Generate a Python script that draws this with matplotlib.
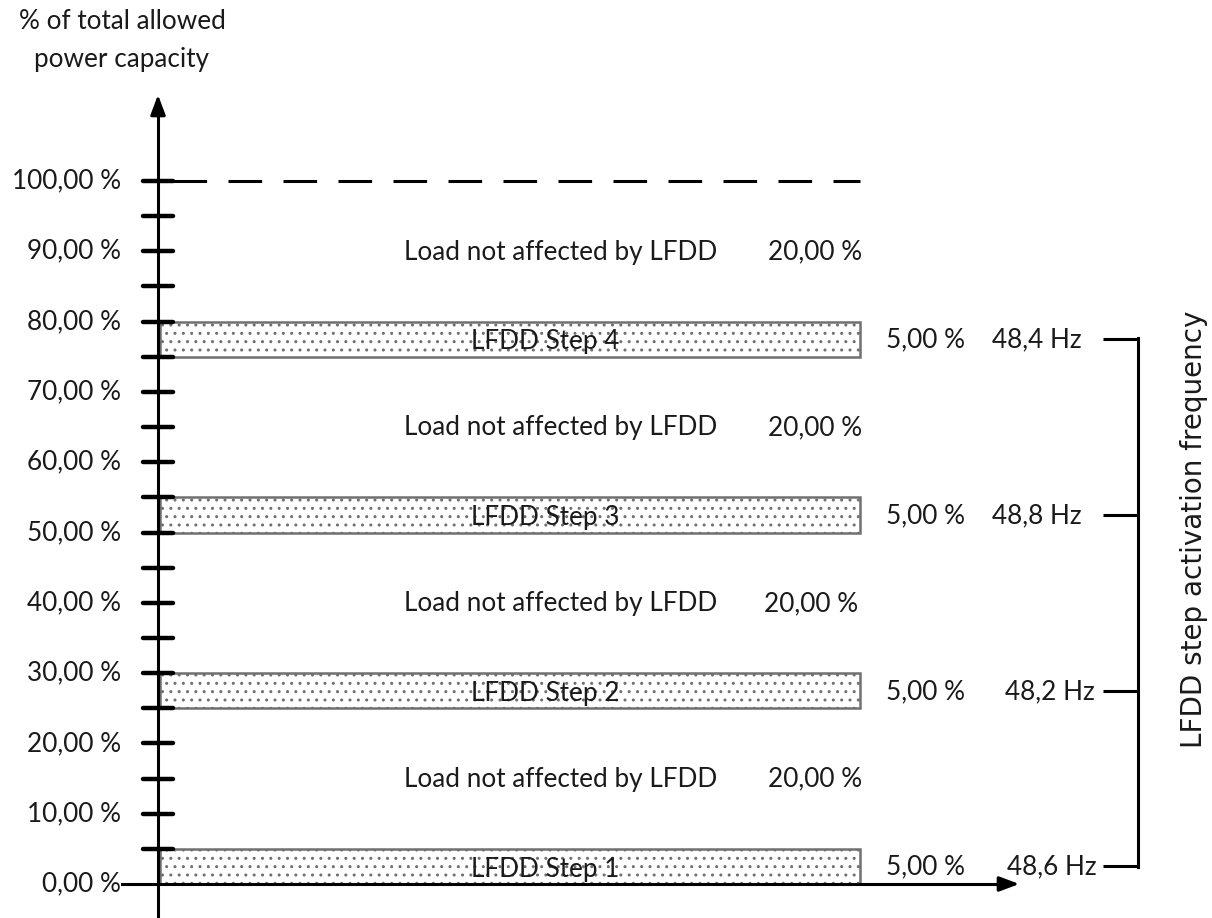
import matplotlib.pyplot as plt
import numpy as np

plt.rcParams['font.family'] = ['Lato', 'DejaVu Sans']
plt.rcParams['hatch.linewidth'] = 1.0
plt.rcParams['hatch.color'] = '#222222'

# data
step_names = ['LFDD Step 1', 'LFDD Step 2', 'LFDD Step 3', 'LFDD Step 4']
step_bottom = [0, 25, 50, 75]
step_size = [5, 5, 5, 5]
step_freq = ['48,6 Hz', '48,2 Hz', '48,8 Hz', '48,4 Hz']
free_bottom = [5, 30, 55, 80]
free_size = [20, 20, 20, 20]
major_ticks = np.arange(0, 101, 10)
minor_ticks = np.arange(0, 101, 5)

W, H = 1212, 918
fig = plt.figure(figsize=(W / 100, H / 100), dpi=100)
ax = fig.add_axes([0, 0, 1, 1])
# y in percent, x in pixels
ppu = 7.03
y0 = 884
ax.set_xlim(0, W)
ax.set_ylim((y0 - H) / ppu, y0 / ppu)
ax.axis('off')

fs = 18.8
tc = '#1a1a1a'

def fmt(v):
    return f'{v:.2f}'.replace('.', ',') + ' %'

xa = 158
bar_l, bar_r = 160, 860

# steps
for name, b, s, f, fx in zip(step_names, step_bottom, step_size, step_freq, [1097, 1095, 1082, 1082]):
    ax.barh(b + s / 2, bar_r - bar_l, height=s, left=bar_l, color='white',
            edgecolor='#707070', hatch='..', linewidth=1.8, zorder=2)
    ax.text(545, b + s / 2 - 0.4, name, ha='center', va='center',
            fontsize=fs, color=tc, zorder=4)
    ax.text(886, b + s / 2 - 0.1, fmt(s), ha='left', va='center', fontsize=fs, color=tc)
    ax.text(fx, b + s / 2 - 0.1, f, ha='right', va='center', fontsize=fs, color=tc)
    ax.plot([1103, 1138], [b + s / 2] * 2, color='black', lw=2.2, solid_capstyle='butt')

# bracket vertical
mids = [b + s / 2 for b, s in zip(step_bottom, step_size)]
ax.plot([1138, 1138], [min(mids) - 0.15, max(mids) + 0.15], color='black', lw=2.2)
ax.text(1194, 50.4, 'LFDD step activation frequency', rotation=90, ha='center', va='center',
        fontsize=20, color=tc, family='DejaVu Sans')

# free load
for b, s, pr in zip(free_bottom, free_size, [862, 858, 862, 862]):
    m = b + s / 2 - 0.1
    ax.text(404, m, 'Load not affected by LFDD', ha='left', va='center', fontsize=fs, color=tc)
    ax.text(pr, m, fmt(s), ha='right', va='center', fontsize=fs, color=tc)

# dashed 100%
ax.plot([173, 860], [100, 100], color='black', lw=2.2, dashes=(11, 7))

# axes lines
ax.plot([xa, xa], [(y0 - H) / ppu, (y0 - 112) / ppu], color='black', lw=2.2, zorder=5)
ax.annotate('', xy=(xa, (y0 - 92) / ppu), xytext=(xa, (y0 - 115) / ppu),
            arrowprops=dict(arrowstyle='-|>,head_width=0.45,head_length=1.2', color='black', lw=2.2))
ax.plot([122, 1003], [0, 0], color='black', lw=2.2, zorder=5)
ax.annotate('', xy=(1022, 0), xytext=(998, 0),
            arrowprops=dict(arrowstyle='-|>,head_width=0.45,head_length=1.2', color='black', lw=2.2))

# ticks
for t in minor_ticks:
    if t == 0:
        continue
    ax.plot([143, 173], [t, t], color='black', lw=3.2, solid_capstyle='round', zorder=5)
for t in major_ticks:
    ax.text(121, t, fmt(t), ha='right', va='center', fontsize=fs, color=tc)

ax.text(122, (y0 - 22) / ppu, '% of total allowed', ha='center', va='center', fontsize=fs, color=tc)
ax.text(122, (y0 - 60) / ppu, 'power capacity', ha='center', va='center', fontsize=fs, color=tc)

fig.savefig('out.png', dpi=100)
